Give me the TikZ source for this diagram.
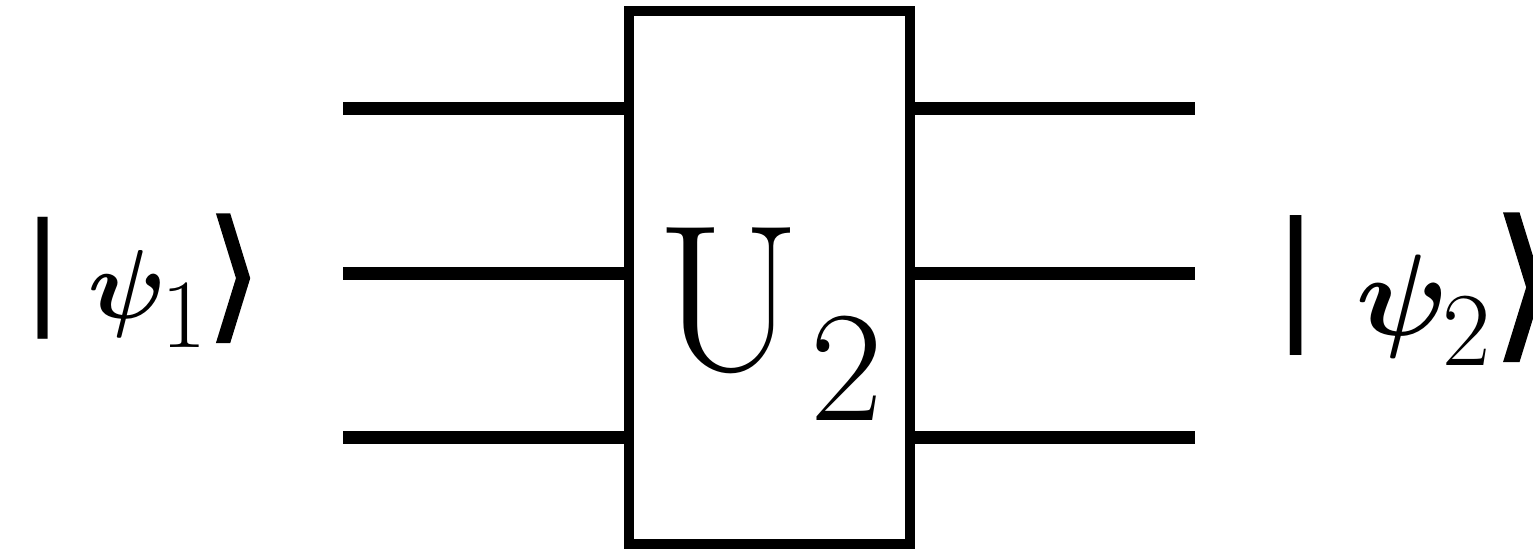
\RequirePackage{fix-cm}
\documentclass[tikz,border=0pt]{standalone}
\usepackage{fontspec}
\newfontfamily\barfont{DejaVu Sans}
\newfontfamily\angfont[FakeBold=1.6]{DejaVu Sans}
\usepackage{tikz}
\usetikzlibrary{positioning,calc}

\begin{document}
\begin{tikzpicture}[x=1pt,y=-1pt,
  wire/.style={line width=13pt},
  gatebox/.style={draw,line width=10pt,minimum width=281pt,minimum height=533pt,inner sep=0pt},
  lbl/.style={inner sep=0pt,outer sep=0pt,anchor=base west}]
  \useasboundingbox (0,0) rectangle (1533,552);
  \node[gatebox] (gate) at (769.5,277.5) {};
  \node[lbl] (glabel) at (656,370) {\fontsize{209}{209}\selectfont U\hspace{10pt}\raisebox{-50pt}{\fontsize{158}{158}\selectfont 2}};
  % input and output wires
  \coordinate (in1) at (343,108);
  \coordinate (in2) at (343,273);
  \coordinate (in3) at (343,437);
  \coordinate (out1) at (1195,108);
  \coordinate (out2) at (1195,273);
  \coordinate (out3) at (1195,437);
  \foreach \i in {1,2,3} {
    \draw[wire] (in\i) -- (gate.west |- in\i);
    \draw[wire] (gate.east |- out\i) -- (out\i);
  }
  \node[lbl] (ketin) at (22,310) {{\barfont\fontsize{122}{122}\selectfont |}\hspace{25pt}%
    \raisebox{-8pt}{\fontsize{98}{98}\selectfont\boldmath$\psi$}\hspace{-5pt}%
    \raisebox{-37pt}{\fontsize{98}{98}\selectfont 1}\hspace{0pt}%
    \raisebox{-13pt}{\angfont\fontsize{143}{143}\selectfont ⟩}};
  \node[lbl] (ketout) at (1272,322) {{\barfont\fontsize{140}{140}\selectfont |}\hspace{37pt}%
    \raisebox{-13pt}{\fontsize{116}{116}\selectfont\boldmath$\psi$}\hspace{-6pt}%
    \raisebox{-43pt}{\fontsize{105}{105}\selectfont 2}\hspace{1pt}%
    \raisebox{-17pt}{\angfont\fontsize{165}{165}\selectfont ⟩}};
\end{tikzpicture}
\end{document}
